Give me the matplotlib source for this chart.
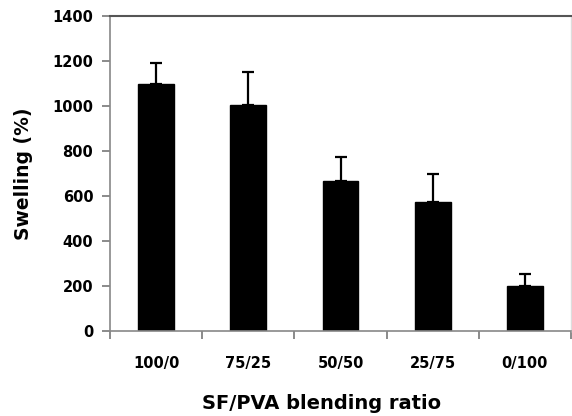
import numpy as np
import matplotlib.pyplot as plt
from matplotlib.ticker import FixedLocator

ratios = ['100/0', '75/25', '50/50', '25/75', '0/100']
swelling = [1100, 1005, 667, 572, 200]
swelling_err = [92, 148, 106, 124, 53]

fig = plt.figure(figsize=(5.72, 4.16), dpi=100)
ax = fig.add_axes([0.1923, 0.2043, 0.806, 0.7572])

x = np.arange(len(ratios))
ax.bar(x, swelling, width=0.39, color='black', edgecolor='black')
ax.errorbar(x, swelling, yerr=[np.zeros(len(swelling)), swelling_err],
            fmt='none', ecolor='black', elinewidth=1.6, capsize=4.5, capthick=1.6)

ax.set_xlim(-0.5, len(ratios) - 0.5)
ax.set_ylim(0, 1400)
ax.set_yticks(range(0, 1401, 200))
ax.set_xticks(x)
ax.set_xticklabels(ratios, fontsize=10.5, fontweight='bold')
ax.xaxis.set_minor_locator(FixedLocator(np.arange(-0.5, len(ratios), 1.0)))
ax.tick_params(axis='x', which='major', length=0, pad=18)
ax.tick_params(axis='x', which='minor', length=6, width=1.2, color='#777777', direction='out')
ax.tick_params(axis='y', length=6, width=1.2, color='#777777', direction='out', pad=6)
for lab in ax.get_yticklabels():
    lab.set_fontsize(10.5)
    lab.set_fontweight('bold')

ax.spines['left'].set_color('#888888')
ax.spines['left'].set_linewidth(1.2)
ax.spines['bottom'].set_color('#888888')
ax.spines['bottom'].set_linewidth(1.2)
ax.spines['top'].set_color('#555555')
ax.spines['top'].set_linewidth(1.5)
ax.spines['right'].set_color('#dddddd')
ax.spines['right'].set_linewidth(1.0)

ax.set_ylabel('Swelling (%)', fontsize=13.5, fontweight='bold', labelpad=14)
ax.set_xlabel('SF/PVA blending ratio', fontsize=14, fontweight='bold')
ax.xaxis.set_label_coords(0.458, -0.2)

fig.savefig('out.png', dpi=100)
